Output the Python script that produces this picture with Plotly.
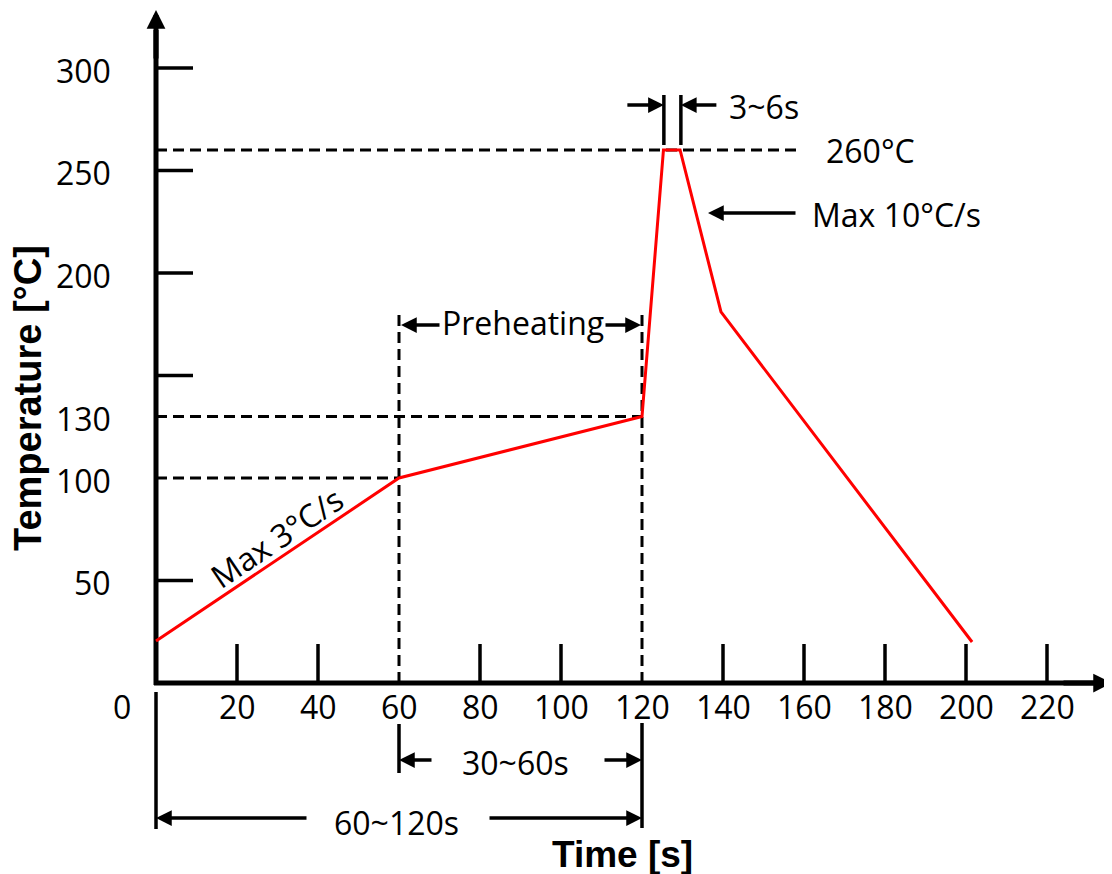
import plotly.graph_objects as go

# ---- data ----
time_s = [0, 60, 120, 125.3, 129.4, 139.5, 201.5]
temp_c = [20.5, 100, 130, 260, 260, 181, 20]

x_tick_vals = [0, 20, 40, 60, 80, 100, 120, 140, 160, 180, 200, 220]
x_tick_text = ["0", "20", "40", "60", "80", "100", "120", "140", "160", "180", "200", "220"]
x_tick_marks = [20, 40, 80, 100, 140, 160, 180, 200, 220]

y_label_vals = [50, 100, 130, 200, 250, 300]
y_label_text = ["50", "100", "130", "200", "250", "300"]
y_tick_marks = [50, 150, 200, 250, 300]

preheat_start, preheat_end = 60, 120
peak_start, peak_end = 125.4, 129.6
peak_temp = 260
knee_temp = 181

# ---- geometry helpers (pixel scale of the reference) ----
PX_X = 4.05   # px per second
PX_Y = 2.05   # px per degree
X0_PX, Y0_PX = 156, 683
W, H = 1112, 874
PAGE_OFF = 8  # default body margin of the page
xr = [(PAGE_OFF - X0_PX) / PX_X, (W + PAGE_OFF - X0_PX) / PX_X]
yr = [(Y0_PX - H - PAGE_OFF) / PX_Y, (Y0_PX - PAGE_OFF) / PX_Y]

def dx(px):
    return px / PX_X

def dy(px):
    return px / PX_Y

FONT = "Open Sans"
FS = 32
BLACK = "black"

fig = go.Figure()
fig.add_trace(go.Scatter(x=time_s, y=temp_c, mode="lines",
                         line=dict(color="#ff0000", width=3), hoverinfo="skip",
                         showlegend=False))

shapes = []
ann = []

def line(x0, y0, x1, y1, w=3.5, dash=None):
    d = dict(type="line", x0=x0, y0=y0, x1=x1, y1=y1, xref="x", yref="y",
             line=dict(color=BLACK, width=w, dash=dash), layer="below")
    shapes.append(d)

def arrow(xh, yh, xt, yt, w=3.5, size=0.9):
    ann.append(dict(x=xh, y=yh, ax=xt, ay=yt, xref="x", yref="y", axref="x", ayref="y",
                    text="", showarrow=True, arrowhead=2, arrowwidth=w, arrowsize=size,
                    arrowcolor=BLACK, standoff=0, startstandoff=0))

def text(x, y, s, xanchor="center", size=FS, angle=0, family=FONT, bold=False):
    ann.append(dict(x=x, y=y, xref="x", yref="y", text=("<b>%s</b>" % s) if bold else s,
                    showarrow=False, xanchor=xanchor, yanchor="middle", textangle=angle,
                    font=dict(family=family, size=size, color=BLACK)))

x_end = dx(1112 - X0_PX)
y_top = dy(Y0_PX - 10)

# axes
line(0, -dy(2), 0, y_top - dy(20), w=5)
line(-dx(2), 0, x_end - dx(12), 0, w=5)
arrow(0, y_top, 0, y_top - dy(50), w=5, size=0.75)
arrow(x_end, 0, x_end - dx(50), 0, w=5, size=0.75)

# tick marks
for v in y_tick_marks:
    line(0, v, dx(37), v, w=3.5)
for v in x_tick_marks:
    line(v, 0, v, dy(39), w=3.5)

# tick labels
for v, t in zip(y_label_vals, y_label_text):
    text(-dx(43), v - dy(2), t, xanchor="right")
for v, t in zip(x_tick_vals, x_tick_text):
    xv = v - dx(34) if v == 0 else v
    text(xv, -dy(23), t)

# dashed guide lines
DASH = "11px,6px"
line(0, peak_temp, dx(800 - X0_PX), peak_temp, w=3, dash=DASH)
line(0, 130, preheat_end, 130, w=3, dash=DASH)
line(0, 100, preheat_start, 100, w=3, dash=DASH)
line(preheat_start, 0, preheat_start, knee_temp, w=3, dash=DASH)
line(preheat_end, 0, preheat_end, knee_temp, w=3, dash=DASH)

# Preheating
y_pre = dy(Y0_PX - 325)
arrow(preheat_start + dx(2), y_pre, preheat_start + dx(42), y_pre)
arrow(preheat_end - dx(1), y_pre, preheat_end - dx(38), y_pre)
text((preheat_start + preheat_end) / 2 + dx(2), dy(Y0_PX - 322), "Preheating")

# bottom brackets
line(0, -dy(9), 0, -dy(146), w=3.5)
line(preheat_start, -dy(41), preheat_start, -dy(90), w=3.5)
line(preheat_end, -dy(40), preheat_end, -dy(145), w=3.5)
y30 = -dy(760 - Y0_PX)
arrow(preheat_start, y30, preheat_start + dx(34), y30)
arrow(preheat_end, y30, preheat_end - dx(39), y30)
text(dx(515 - X0_PX), -dy(762 - Y0_PX), "30~60s")
y60 = -dy(818 - Y0_PX)
arrow(0, y60, dx(308 - X0_PX), y60)
arrow(preheat_end, y60, dx(488 - X0_PX), y60)
text(dx(396 - X0_PX), -dy(822 - Y0_PX), "60~120s")

# 3~6s
line(peak_start, dy(Y0_PX - 145), peak_start, dy(Y0_PX - 95), w=3.5)
line(peak_end, dy(Y0_PX - 145), peak_end, dy(Y0_PX - 95), w=3.5)
y36 = dy(Y0_PX - 105)
arrow(peak_start, y36, peak_start - dx(38), y36)
arrow(peak_end, y36, peak_end + dx(37), y36)
text(dx(764 - X0_PX), dy(Y0_PX - 106), "3~6s")

# 260°C label
text(dx(870 - X0_PX), peak_temp, "260°C")

# Max 10°C/s
y10 = dy(Y0_PX - 213)
arrow(dx(708 - X0_PX), y10, dx(797 - X0_PX), y10)
text(dx(810 - X0_PX), dy(Y0_PX - 214), "Max 10°C/s", xanchor="left")

# Max 3°C/s (rotated along the ramp)
text(dx(276 - X0_PX), dy(Y0_PX - 537), "Max 3°C/s", angle=-34)

# axis titles
text(dx(28 - X0_PX), dy(Y0_PX - 398), "Temperature [°C]", size=38, angle=-90,
     family="Liberation Sans", bold=True)
text(dx(622 - X0_PX), -dy(854 - Y0_PX), "Time [s]", size=37,
     family="Liberation Sans", bold=True)

fig.update_layout(
    width=W, height=H,
    margin=dict(l=0, r=0, t=0, b=0),
    paper_bgcolor="white", plot_bgcolor="white",
    xaxis=dict(range=xr, visible=False, fixedrange=True),
    yaxis=dict(range=yr, visible=False, fixedrange=True),
    shapes=shapes, annotations=ann,
    showlegend=False,
)

fig.write_html("out.html", config={"displayModeBar": False})
